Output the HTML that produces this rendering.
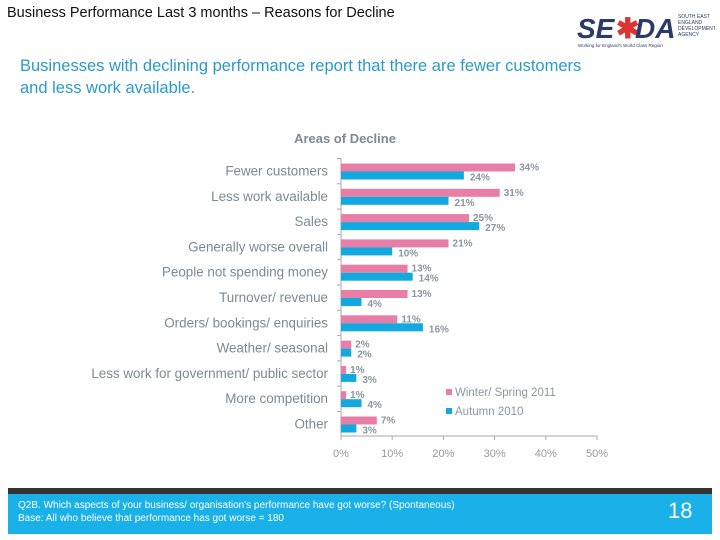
<!DOCTYPE html>
<html><head><meta charset="utf-8"><style>
body{margin:0;width:720px;height:540px;background:#fff;position:relative;overflow:hidden;font-family:"Liberation Sans",sans-serif}
.t{position:absolute;white-space:nowrap}
</style></head><body>
<div class="t" style="left:7px;top:5px;font-size:14.5px;color:#111">Business Performance Last 3 months – Reasons for Decline</div>
<div style="position:absolute;left:575px;top:8px;width:140px;height:42px">
<svg width="140" height="42"><text x="2" y="30" font-family="Liberation Sans" font-weight="bold" font-style="italic" font-size="28" fill="#2a3a6a">SE</text><text x="41" y="30" font-family="Liberation Sans" font-weight="bold" font-size="28" fill="#d33">✱</text><text x="60" y="30" font-family="Liberation Sans" font-weight="bold" font-style="italic" font-size="28" fill="#2a3a6a">DA</text><text x="103" y="10" font-size="5" fill="#2a3a6a">SOUTH EAST</text><text x="103" y="16" font-size="5" fill="#2a3a6a">ENGLAND</text><text x="103" y="22" font-size="5" fill="#2a3a6a">DEVELOPMENT</text><text x="103" y="28" font-size="5" fill="#2a3a6a">AGENCY</text><text x="3" y="39" font-size="4.5" fill="#2a3a6a">Working for England's World Class Region</text></svg></div>
<div class="t" style="left:20px;top:55px;font-size:16.5px;line-height:22px;color:#2a9bc8">Businesses with declining performance report that there are fewer customers<br>and less work available.</div>
<svg id="chart" width="720" height="540" style="position:absolute;left:0;top:0"></svg>
<div style="position:absolute;left:8px;top:488px;width:704px;height:40px;background:#1ab0e8;border-top:6px solid #333"></div>
<div class="t" style="left:18px;top:499px;font-size:10px;line-height:13px;color:#fff">Q2B. Which aspects of your business/ organisation's performance have got worse? (Spontaneous)<br>Base: All who believe that performance has got worse = 180</div>
<div class="t" style="left:668px;top:498px;font-size:22px;color:#fff">18</div>
<script>
const categories=["Fewer customers","Less work available","Sales","Generally worse overall","People not spending money","Turnover/ revenue","Orders/ bookings/ enquiries","Weather/ seasonal","Less work for government/ public sector","More competition","Other"];
const winter2011=[34,31,25,21,13,13,11,2,1,1,7];
const autumn2010=[24,21,27,10,14,4,16,2,3,4,3];
const ticks=[0,10,20,30,40,50];
const NS="http://www.w3.org/2000/svg";
const svg=document.getElementById('chart');
const x0=341,pxPer=5.12,y0=158.5,step=25.3;
const X=v=>x0+v*pxPer;
const Y=i=>y0+i*step;
function mk(tag,attrs,txt){const e=document.createElementNS(NS,tag);for(const k in attrs)e.setAttribute(k,attrs[k]);if(txt!=null)e.textContent=txt;svg.appendChild(e);return e;}
let e=mk('text',{x:345,y:143,'font-size':13,'font-weight':'bold',fill:'#7a8a96','text-anchor':'middle','font-family':'Liberation Sans'},'Areas of Decline');


mk('line',{x1:x0,y1:y0,x2:x0,y2:436,stroke:'#aaa'});
mk('line',{x1:x0,y1:436,x2:X(50),y2:436,stroke:'#aaa'});
ticks.forEach(t=>{mk('line',{x1:X(t),y1:436,x2:X(t),y2:440,stroke:'#aaa'});
const l=mk('text',{x:X(t),y:457,'font-size':11,fill:'#999','text-anchor':'middle','font-family':'Liberation Sans'},t+'%');

});
categories.forEach((c,i)=>{
mk('line',{x1:x0-4,y1:Y(i),x2:x0,y2:Y(i),stroke:'#aaa'});
const l=mk('text',{x:328,y:Y(i)+17,'font-size':13.4,fill:'#7a8a96','text-anchor':'end','font-family':'Liberation Sans'},c);


const yb=Y(i)+5;
const b1=mk('rect',{x:x0,y:yb,width:winter2011[i]*pxPer,height:8,fill:'#e87da8'});


const b2=mk('rect',{x:x0,y:yb+8,width:autumn2010[i]*pxPer,height:8,fill:'#12a8e0'});


const v1=mk('text',{x:X(winter2011[i])+4,y:yb+7,'font-size':10,'font-weight':'bold',fill:'#8a96a0','font-family':'Liberation Sans'},winter2011[i]+'%');


const v2=mk('text',{x:X(autumn2010[i])+6,y:yb+17,'font-size':10,'font-weight':'bold',fill:'#8a96a0','font-family':'Liberation Sans'},autumn2010[i]+'%');


});
const lg=[['#e87da8','Winter/ Spring 2011',396],['#12a8e0','Autumn 2010',415]];
lg.forEach(([c,t,y])=>{mk('rect',{x:446,y:y-7,width:6,height:6,fill:c});
const l=mk('text',{x:455,y:y,'font-size':11.5,fill:'#8a96a0','font-family':'Liberation Sans'},t);

});
</script>
</body></html>
